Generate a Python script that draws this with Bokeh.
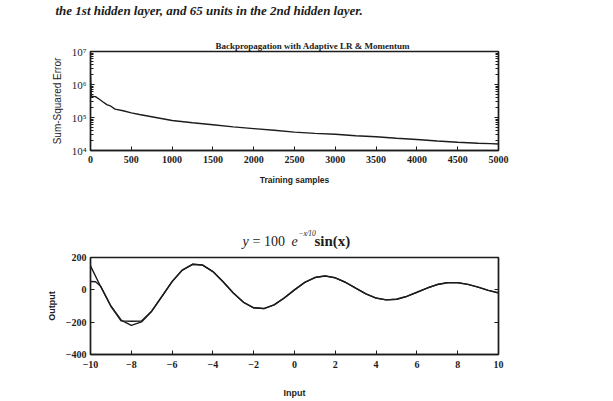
from bokeh.plotting import figure
from bokeh.layouts import column
from bokeh.models import (LogAxis, LinearAxis, Label, Title, SingleIntervalTicker, LogTicker,
                          CustomJSTickFormatter, Range1d)
from bokeh.embed import file_html
from bokeh.resources import INLINE

# ---------------- data ----------------
# top chart: training error (log scale)
samples = [0, 10, 60, 100, 150, 200, 250, 300, 400, 500, 600, 800, 1000, 1250, 1500,
           1750, 2000, 2250, 2500, 2750, 3000, 3250, 3500, 3750, 4000, 4250, 4500,
           4750, 4900, 5000]
sse = [1.8e6, 4.4e5, 4.3e5, 3.7e5, 3.0e5, 2.45e5, 2.2e5, 1.8e5, 1.6e5, 1.38e5, 1.23e5,
       1.0e5, 8.1e4, 6.9e4, 6.0e4, 5.2e4, 4.6e4, 4.1e4, 3.6e4, 3.3e4, 3.1e4, 2.8e4,
       2.6e4, 2.35e4, 2.15e4, 1.95e4, 1.78e4, 1.66e4, 1.62e4, 1.58e4]

# bottom chart: target function and network output
inputs = [-10, -9.5, -9, -8.5, -8, -7.5, -7, -6.5, -6, -5.5, -5, -4.5, -4, -3.5, -3,
          -2.5, -2, -1.5, -1, -0.5, 0, 0.5, 1, 1.5, 2, 2.5, 3, 3.5, 4, 4.5, 5, 5.5,
          6, 6.5, 7, 7.5, 8, 8.5, 9, 9.5, 10]
target = [147.9, 19.4, -101.4, -186.8, -220.2, -198.6, -132.3, -41.2, 50.9, 122.3,
          158.1, 153.3, 112.9, 49.8, -19.0, -76.8, -111.1, -115.9, -93.0, -50.4, 0.0,
          45.6, 76.1, 85.9, 74.4, 46.6, 10.5, -24.7, -50.7, -62.3, -58.2, -40.7, -15.3,
          11.2, 32.6, 44.3, 44.5, 34.1, 16.8, -2.9, -20.0]
net_inputs = [-10, -9.75, -9.5, -9, -8.5, -8, -7.5, -7, -6.5, -6, -5.5, -5, -4.5, -4,
              -3.5, -3, -2.5, -2, -1.5, -1, -0.5, 0, 0.5, 1, 1.5, 2, 2.5, 3, 3.5, 4,
              4.5, 5, 5.5, 6, 6.5, 7, 7.5, 8, 8.5, 9, 9.5, 10]
net_output = [52, 50, 22, -100, -192, -194, -193, -132, -41, 51, 122, 158, 153, 113,
              50, -19, -77, -111, -116, -93, -50, 0, 46, 76, 86, 74, 47, 10, -25, -51,
              -62, -58, -41, -15, 11, 33, 44, 44, 34, 17, -3, -17]

x_ticks_top_interval = 500
x_ticks_bottom_interval = 2
y_ticks_bottom_interval = 200

header_text = "the 1st hidden layer, and 65 units in the 2nd hidden layer."
top_title = "Backpropagation with Adaptive LR & Momentum"

INK = "#1c1c1c"
SERIF = "Liberation Serif"
SANS = "Liberation Sans"
FRAME_L, FRAME_R = 90, 498   # shared frame edges (px) of the column
HEAD_H = 20

blank = CustomJSTickFormatter(code="return '';")
sup_fmt = CustomJSTickFormatter(code="""
const sup = {"0":"\u2070","1":"\u00b9","2":"\u00b2","3":"\u00b3","4":"\u2074","5":"\u2075","6":"\u2076","7":"\u2077","8":"\u2078","9":"\u2079","-":"\u207b"};
const e = Math.round(Math.log10(tick));
return "10" + String(e).split("").map(c => sup[c]).join("");
""")


def style_axis(ax):
    ax.axis_line_color = INK
    ax.axis_line_width = 1.4
    ax.major_tick_line_color = INK
    ax.minor_tick_line_color = INK
    ax.major_tick_in = 4
    ax.major_tick_out = 0
    ax.minor_tick_in = 3
    ax.minor_tick_out = 0
    ax.major_label_text_font = SERIF
    ax.major_label_text_font_style = "bold"
    ax.major_label_text_font_size = "10px"
    ax.major_label_text_color = INK
    ax.axis_label_text_font = SANS
    ax.axis_label_text_font_size = "9px"
    ax.axis_label_text_font_style = "bold"
    ax.axis_label_text_color = INK


def strip(h):
    f = figure(width=613, height=h, x_range=Range1d(FRAME_L, FRAME_R), y_range=Range1d(h, 0),
               output_backend="svg", toolbar_location=None, title=None,
               x_axis_location=None, y_axis_location=None,
               min_border_left=FRAME_L, min_border_right=613 - FRAME_R, min_border_top=0,
               min_border_bottom=0, border_fill_color="white", background_fill_color="white")
    f.grid.visible = False
    f.outline_line_color = None
    return f


# ---------------- header strip (page text) ----------------
head = strip(HEAD_H)
head.add_layout(Title(text=header_text, align="left", offset=-35, standoff=0,
                      text_font=SERIF, text_font_style="bold italic", text_font_size="13px",
                      text_color=INK), "above")

# ---------------- top chart ----------------
top = figure(width=613, height=200 - HEAD_H, x_range=Range1d(0, 5000), y_range=Range1d(1e4, 1e7),
             y_axis_type="log", output_backend="svg", toolbar_location=None, title=None,
             min_border_left=FRAME_L, min_border_right=613 - FRAME_R,
             min_border_top=51 - HEAD_H, min_border_bottom=50,
             background_fill_color="white", border_fill_color="white")
top.grid.visible = False
top.outline_line_color = INK
top.outline_line_width = 1.4

top.add_layout(Title(text=top_title, align="left", offset=125, standoff=1,
                     text_font=SERIF, text_font_style="bold", text_font_size="9px",
                     text_color=INK), "above")

top.xaxis.ticker = SingleIntervalTicker(interval=x_ticks_top_interval, num_minor_ticks=0)
top.yaxis.ticker = LogTicker(num_minor_ticks=10, desired_num_ticks=4)
top.yaxis.formatter = sup_fmt
for ax in top.xaxis + top.yaxis:
    style_axis(ax)
top.xaxis.axis_label = "Training samples"
top.xaxis.axis_label_text_font_size = "8.5px"
top.xaxis.major_label_standoff = 5
top.xaxis.axis_label_standoff = 9
top.yaxis.axis_label = "Sum-Squared Error"
top.yaxis.axis_label_text_font_style = "normal"
top.yaxis.axis_label_text_font_size = "10px"
top.yaxis.major_label_standoff = 4
top.yaxis.axis_label_standoff = 6
top.yaxis.major_label_text_font_style = "normal"
top.yaxis.major_label_text_font_size = "11px"

ax_right = LogAxis(ticker=LogTicker(num_minor_ticks=10, desired_num_ticks=4), formatter=blank)
style_axis(ax_right)
top.add_layout(ax_right, "right")

top.line(samples, sse, line_color=INK, line_width=1.4)

# ---------------- formula strip (data units = page pixels) ----------------
mid = strip(52)
formula_parts = [
    ("y", 242, 40.5, "14px", "italic"),
    ("= 100", 252, 40.5, "14px", "normal"),
    ("e", 291, 40.5, "14px", "italic"),
    ("\u2212x\u204410", 298, 33, "7.5px", "italic"),
    ("sin(x)", 314, 40.5, "15px", "bold"),
]
for txt, xx, yy, fs, st in formula_parts:
    mid.add_layout(Label(x=xx, y=yy, text=txt, text_align="left",
                         text_baseline="alphabetic", text_font=SERIF, text_font_size=fs,
                         text_font_style=st, text_color=INK))

# ---------------- bottom chart ----------------
bot = figure(width=613, height=149, x_range=Range1d(-10, 10), y_range=Range1d(-400, 200),
             output_backend="svg", toolbar_location=None, title=None,
             min_border_left=FRAME_L, min_border_right=613 - FRAME_R, min_border_top=5,
             min_border_bottom=47, background_fill_color="white",
             border_fill_color="white")
bot.grid.visible = False
bot.outline_line_color = INK
bot.outline_line_width = 1.4
bot.xaxis.ticker = SingleIntervalTicker(interval=x_ticks_bottom_interval, num_minor_ticks=0)
bot.yaxis.ticker = SingleIntervalTicker(interval=y_ticks_bottom_interval, num_minor_ticks=0)
for ax in bot.xaxis + bot.yaxis:
    style_axis(ax)
bot.xaxis.axis_label = "Input"
bot.xaxis.major_label_standoff = 6
bot.xaxis.axis_label_standoff = 17
bot.yaxis.axis_label = "Output"
bot.yaxis.major_label_standoff = 4
bot.yaxis.axis_label_standoff = 6

ax_right2 = LinearAxis(ticker=SingleIntervalTicker(interval=y_ticks_bottom_interval, num_minor_ticks=0),
                       formatter=blank)
style_axis(ax_right2)
bot.add_layout(ax_right2, "right")

bot.line(inputs, target, line_color=INK, line_width=1.4)
bot.line(net_inputs, net_output, line_color=INK, line_width=1.4)

layout = column(head, top, mid, bot, spacing=0)
open("out.html", "w").write(file_html(layout, INLINE))
